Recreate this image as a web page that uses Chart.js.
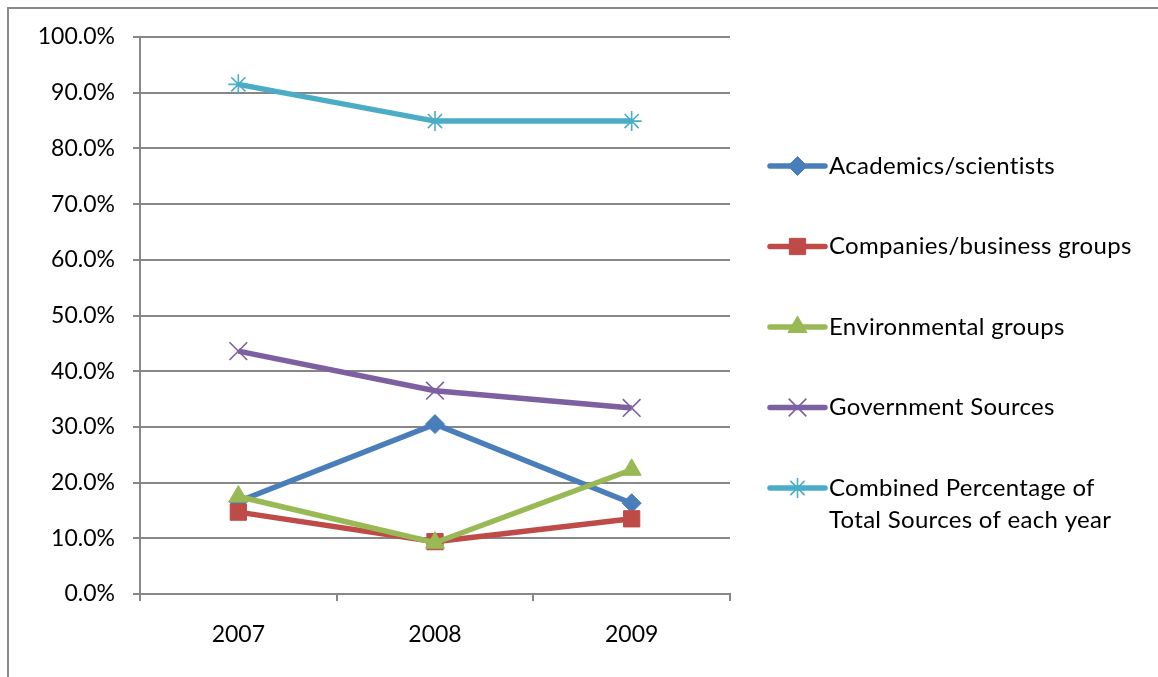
<!DOCTYPE html>
<html lang="en">
<head>
    <meta charset="UTF-8">
    <title>Sources by year</title>
    <script src="https://cdn.jsdelivr.net/npm/chart.js@4.4.0/dist/chart.umd.min.js"></script>
    <style>
        body {
            margin: 0;
            background: #ffffff;
        }
        canvas {
            display: block;
        }
    </style>
</head>
<body>
    <canvas id="sourcesChart" width="1158" height="677"></canvas>

    <script>
        // Values (percent)
        const years = ['2007', '2008', '2009'];
        const academics = [16.6, 30.5, 16.3];
        const companies = [14.7, 9.4, 13.5];
        const environmental = [17.5, 9.2, 22.3];
        const government = [43.6, 36.5, 33.4];
        const combined = [91.5, 84.9, 84.9];

        const seriesNames = [
            'Academics/scientists',
            'Companies/business groups',
            'Environmental groups',
            'Government Sources',
            'Combined Percentage of\nTotal Sources of each year'
        ];
        const seriesValues = [academics, companies, environmental, government, combined];
        const seriesColors = ['#4A7EBB', '#BE4B48', '#98B954', '#7D60A0', '#4BACC6'];
        const seriesMarkers = ['rectRot', 'rect', 'triangle', 'crossRot', 'star'];
        const markerRadius = [9.5, 11.5, 11, 12.5, 10];

        const gridColor = '#878787';
        const fontFamily = 'Lato, "Open Sans", sans-serif';
        const fontSize = 23;
        const legendFontSize = 24;

        const datasets = seriesNames.map((name, i) => {
            const thin = seriesMarkers[i] === 'crossRot' || seriesMarkers[i] === 'star';
            return {
                label: name,
                data: seriesValues[i],
                borderColor: seriesColors[i],
                backgroundColor: seriesColors[i],
                borderWidth: 5.5,
                pointStyle: seriesMarkers[i],
                pointRadius: markerRadius[i],
                pointBorderWidth: thin ? 1.6 : 1,
                pointBackgroundColor: seriesColors[i],
                pointBorderColor: seriesColors[i],
                tension: 0,
                order: seriesNames.length - i
            };
        });

        // outer frame of the chart object (top and left edges visible)
        const framePlugin = {
            id: 'frame',
            beforeDraw(chart) {
                const ctx = chart.ctx;
                ctx.save();
                ctx.strokeStyle = '#8a8a8a';
                ctx.lineWidth = 2;
                ctx.beginPath();
                ctx.moveTo(8, chart.height);
                ctx.lineTo(8, 8);
                ctx.lineTo(chart.width, 8);
                ctx.stroke();
                ctx.restore();
            }
        };

        // Excel-like legend on the right, multi-line labels allowed
        const legendPlugin = {
            id: 'sideLegend',
            afterDraw(chart) {
                const ctx = chart.ctx;
                const x0 = 770, x1 = 825, textX = 829;
                const startY = 166, gap = 80.5, lineHeight = 32;
                ctx.save();
                chart.data.datasets.forEach((ds, i) => {
                    const y = startY + i * gap;
                    ctx.strokeStyle = ds.borderColor;
                    ctx.lineWidth = 5.5;
                    ctx.lineCap = 'round';
                    ctx.beginPath();
                    ctx.moveTo(x0, y);
                    ctx.lineTo(x1, y);
                    ctx.stroke();
                    ctx.lineCap = 'butt';
                    ctx.fillStyle = ds.pointBackgroundColor;
                    ctx.strokeStyle = ds.pointBorderColor;
                    ctx.lineWidth = ds.pointBorderWidth;
                    Chart.helpers.drawPoint(ctx, {
                        pointStyle: ds.pointStyle,
                        radius: ds.pointRadius,
                        rotation: 0,
                        borderWidth: ds.pointBorderWidth
                    }, (x0 + x1) / 2, y);
                    ctx.fillStyle = '#000000';
                    ctx.font = legendFontSize + 'px ' + fontFamily;
                    ctx.letterSpacing = '0.3px';
                    ctx.textBaseline = 'middle';
                    ctx.textAlign = 'left';
                    ds.label.split('\n').forEach((line, k) => {
                        ctx.fillText(line, textX, y + k * lineHeight);
                    });
                });
                ctx.restore();
            }
        };

        const chart = new Chart(document.getElementById('sourcesChart').getContext('2d'), {
            type: 'line',
            data: {
                labels: years,
                datasets: datasets
            },
            options: {
                responsive: false,
                animation: false,
                layout: {
                    padding: { left: 0, top: 37, right: 428, bottom: 0 }
                },
                plugins: {
                    legend: { display: false },
                    tooltip: { enabled: false }
                },
                scales: {
                    x: {
                        offset: true,
                        afterFit: (scale) => { scale.height = 83; },
                        grid: {
                            offset: true,
                            drawOnChartArea: false,
                            drawTicks: true,
                            tickLength: 7,
                            color: gridColor,
                            lineWidth: 2
                        },
                        border: { display: true, color: gridColor, width: 2 },
                        ticks: {
                            color: '#000000',
                            padding: 20,
                            font: { family: fontFamily, size: fontSize }
                        }
                    },
                    y: {
                        min: 0,
                        max: 100,
                        afterFit: (scale) => { scale.width = 140; },
                        grid: {
                            color: gridColor,
                            lineWidth: 2,
                            drawTicks: true,
                            tickLength: 7
                        },
                        border: { display: true, color: gridColor, width: 2 },
                        ticks: {
                            stepSize: 10,
                            color: '#000000',
                            padding: 18,
                            font: { family: fontFamily, size: fontSize },
                            callback: (v) => Number(v).toFixed(1) + '%'
                        }
                    }
                }
            },
            plugins: [framePlugin, legendPlugin]
        });
    </script>
</body>
</html>
